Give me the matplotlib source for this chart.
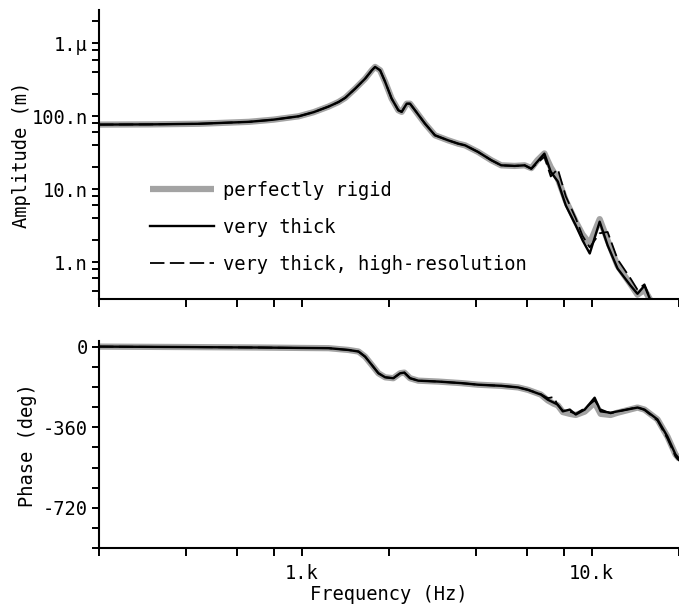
import matplotlib
matplotlib.use("Agg")
import matplotlib.pyplot as plt
from matplotlib.ticker import NullFormatter

plt.rcParams['font.family'] = ['DejaVu Sans Mono']
plt.rcParams['font.size'] = 13.5

# amplitude response (nm), shared low-frequency part
f_amp_lo = [200, 300, 443, 658, 800, 976, 1100, 1238, 1340, 1413, 1530, 1655, 1745, 1791,
            1864, 1940, 2042, 2154, 2212, 2302, 2363, 2459, 2661, 2881, 3198, 3463, 3660,
            4055, 4508, 4876, 5421, 5872]
amp_lo = [77, 77.5, 79, 84, 90, 100, 114, 136, 157, 179, 240, 328, 427, 475,
          427, 296, 175, 121, 115, 149, 149, 121, 79.4, 54.9, 46.9, 42.2, 40.0,
          32.5, 25, 21.3, 20.9, 21.3]

# amplitude above 6 kHz, one list per model
f_amp_hi = [6192, 6500, 6868, 7224, 7639, 8142, 8813, 9300, 9846, 10654, 11350, 12279,
            13610, 14386, 15207, 15955]
amp_rigid = [19.5, 25, 31, 20, 14, 7.0, 3.6, 2.4, 1.8, 3.9, 2.0, 0.9, 0.5, 0.36, 0.42, 0.30]
amp_thick = [19.2, 24, 30.8, 17.4, 12.8, 6.0, 3.2, 2.0, 1.32, 3.6, 1.7, 0.82, 0.48, 0.37,
             0.48, 0.30]
amp_hires = [19.0, 23, 28, 15, 19, 8.0, 4.0, 2.3, 1.6, 2.5, 2.6, 1.1, 0.6, 0.42, 0.5, 0.30]

# phase response (deg)
f_ph_lo = [200, 400, 700, 1000, 1238, 1450, 1570, 1655, 1745, 1839, 1940, 2070, 2184,
           2259, 2363, 2523, 2957, 3557, 4055, 4876, 5572]
ph_lo = [0, -2, -4, -6, -7, -15, -22, -45, -82, -119, -137, -141, -119,
         -116, -141, -152, -156, -163, -170, -175, -182]

f_ph_hi = [6030, 6679, 7058, 7400, 7639, 7950, 8403, 8813, 9462, 10237, 10737, 11620,
           12279, 14386, 15207, 16859, 18238, 19443, 20000]
ph_rigid = [-193, -214, -240, -255, -262, -292, -300, -305, -290, -250, -300, -305,
            -295, -272, -281, -325, -401, -481, -500]
ph_thick = [-193, -214, -237, -250, -259, -289, -281, -303, -281, -228, -289, -295,
            -289, -272, -281, -325, -401, -481, -500]
ph_hires = [-193, -212, -230, -225, -262, -285, -290, -300, -275, -240, -280, -298,
            -290, -270, -283, -330, -410, -490, -510]

labels = ["perfectly rigid", "very thick", "very thick, high-resolution"]

fig = plt.figure(figsize=(6.79, 6.06), dpi=100)
ax1 = fig.add_axes([99 / 679, 1 - 299 / 606, 580 / 679, 289 / 606])
ax2 = fig.add_axes([99 / 679, 1 - 548.3 / 606, 580 / 679, 207.3 / 606])

styles = [dict(color="#a3a3a3", lw=4.5, solid_capstyle="butt"),
          dict(color="black", lw=1.7),
          dict(color="black", lw=1.3, linestyle=(0, (8, 3)))]

for amp_hi, ph_hi, st, lab in zip([amp_rigid, amp_thick, amp_hires],
                                  [ph_rigid, ph_thick, ph_hires], styles, labels):
    f = f_amp_lo + f_amp_hi
    a = [v * 1e-9 for v in amp_lo + amp_hi]
    ax1.plot(f, a, label=lab, **st)
    ax2.plot(f_ph_lo + f_ph_hi, ph_lo + ph_hi, **st)

x_minor = [200, 400, 600, 800, 2000, 4000, 6000, 8000, 20000]
for ax in (ax1, ax2):
    ax.set_xscale("log")
    ax.set_xlim(200, 20000)
    ax.spines["top"].set_visible(False)
    ax.spines["right"].set_visible(False)
    for s in ("left", "bottom"):
        ax.spines[s].set_linewidth(1.5)
    ax.set_xticks(x_minor, minor=True)
    ax.xaxis.set_minor_formatter(NullFormatter())
    ax.tick_params(which="both", direction="out", width=1.4, colors="black")
    ax.tick_params(axis="x", which="both", length=6)
    ax.tick_params(axis="y", which="both", length=5, pad=3)

ax1.set_xticks([1000, 10000], ["", ""])

ax1.set_yscale("log")
ax1.set_ylim(0.314e-9, 2.86e-6)
ax1.set_yticks([1e-9, 1e-8, 1e-7, 1e-6], ["1.n", "10.n", "100.n", "1.µ"])
y_minor = [m * d for d in (1e-10, 1e-9, 1e-8, 1e-7) for m in (2, 4, 6, 8)] + [2e-6]
ax1.set_yticks([v for v in y_minor if v > 0.314e-9], minor=True)
ax1.yaxis.set_minor_formatter(NullFormatter())
ax1.set_ylabel("Amplitude (m)")
ax1.yaxis.set_label_coords(-0.117, 0.5)

ax2.set_ylim(-900, 25)
ax2.set_yticks([0, -360, -720], ["0", "-360", "-720"])
ax2.set_yticks([-90, -180, -270, -450, -540, -630, -810, -900], minor=True)
ax2.set_xticks([1000, 10000], ["1.k", "10.k"])
ax2.tick_params(axis="x", which="major", pad=5)
ax2.set_ylabel("Phase (deg)")
ax2.yaxis.set_label_coords(-0.107, 0.5)
ax2.set_xlabel("Frequency (Hz)", labelpad=2)

ax1.legend(loc="upper left", bbox_to_anchor=(150 / 679, 1 - 181 / 606),
           bbox_transform=fig.transFigure, frameon=False, borderpad=0,
           borderaxespad=0, handlelength=3.4, handletextpad=0.5, labelspacing=0.95)

fig.savefig("out.png", dpi=100, facecolor="white")
